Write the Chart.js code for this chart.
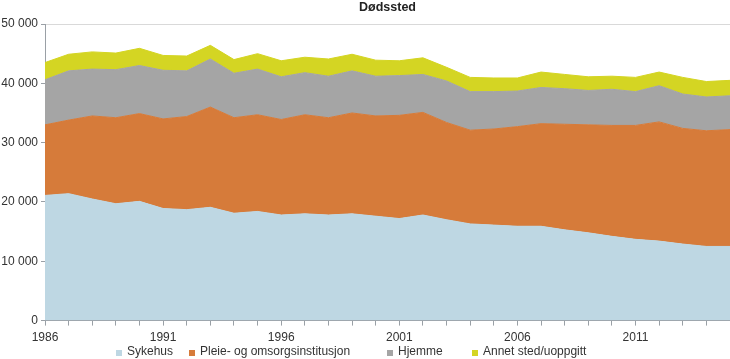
<!DOCTYPE html>
<html>
<head>
<meta charset="utf-8">
<script src="https://cdn.jsdelivr.net/npm/chart.js@4/dist/chart.umd.min.js"></script>
<style>
  html, body { margin: 0; padding: 0; background: #fff; }
  #wrap { width: 730px; height: 359px; }
</style>
</head>
<body>
<div id="wrap"><canvas id="grafica" width="730" height="359"></canvas></div>
<script>
const years = ['1986', '1987', '1988', '1989', '1990', '1991', '1992', '1993', '1994', '1995',
    '1996', '1997', '1998', '1999', '2000', '2001', '2002', '2003', '2004', '2005',
    '2006', '2007', '2008', '2009', '2010', '2011', '2012', '2013', '2014', '2015'];

const sykehus = [21100, 21400, 20500, 19700, 20100, 18900, 18700, 19100, 18100, 18400,
    17800, 18000, 17800, 18000, 17600, 17200, 17800, 17000, 16300, 16100,
    15900, 15900, 15300, 14800, 14200, 13700, 13400, 12900, 12500, 12500];

const pleie = [11900, 12400, 14000, 14500, 14800, 15100, 15700, 16900, 16100, 16300,
    16100, 16700, 16400, 17000, 16900, 17400, 17300, 16400, 15800, 16200,
    16800, 17300, 17800, 18200, 18700, 19200, 20100, 19500, 19500, 19700];

const hjemme = [7600, 8300, 7900, 8100, 8100, 8200, 7700, 8100, 7500, 7700,
    7200, 7100, 7000, 7100, 6700, 6700, 6400, 7000, 6500, 6300,
    6000, 6100, 6000, 5800, 6100, 5700, 6100, 5800, 5700, 5700];

const annet = [2900, 2800, 2900, 2800, 2900, 2500, 2500, 2300, 2300, 2600,
    2700, 2600, 2900, 2800, 2700, 2500, 2800, 2300, 2400, 2300,
    2200, 2600, 2400, 2300, 2200, 2400, 2300, 2800, 2600, 2600];

const yTicks = [0, 10000, 20000, 30000, 40000, 50000];

const FONT = '"Liberation Sans", Arial, sans-serif';
const TEXT = '#333333';

// tittel og forklaring tegnes selv for å treffe plasseringen
const egenTekst = {
    id: 'egenTekst',
    afterDraw(chart) {
        const c = chart.ctx;
        const area = chart.chartArea;
        c.save();
        c.fillStyle = '#222';
        c.font = 'bold 12.5px ' + FONT;
        c.textAlign = 'center';
        c.textBaseline = 'middle';
        c.fillText('Dødssted', (area.left + area.right) / 2, 8);

        const starts = [116, 189, 387, 472];
        c.font = '12px ' + FONT;
        c.textAlign = 'left';
        chart.data.datasets.forEach((ds, i) => {
            c.fillStyle = ds.backgroundColor;
            c.fillRect(starts[i], 350, 6, 6);
            c.fillStyle = TEXT;
            c.fillText(ds.label, starts[i] + 11, 352);
        });
        c.restore();
    }
};

const ctx = document.getElementById('grafica');

function serie(label, data, color, fill) {
    return {
        label: label,
        data: data,
        backgroundColor: color,
        borderColor: color,
        borderWidth: 1,
        pointRadius: 0,
        tension: 0,
        fill: fill
    };
}

new Chart(ctx, {
    type: 'line',
    data: {
        labels: years,
        datasets: [
            serie('Sykehus', sykehus, '#bed7e3', 'origin'),
            serie('Pleie- og omsorgsinstitusjon', pleie, '#d67b3a', '-1'),
            serie('Hjemme', hjemme, '#a5a5a5', '-1'),
            serie('Annet sted/uoppgitt', annet, '#d4d523', '-1')
        ]
    },
    plugins: [egenTekst],
    options: {
        responsive: false,
        animation: false,
        layout: {
            padding: { top: 24, bottom: 9, left: 0, right: 0 }
        },
        plugins: {
            title: { display: false },
            legend: { display: false },
            tooltip: { enabled: false }
        },
        scales: {
            x: {
                type: 'category',
                offset: false,
                afterFit: (s) => { s.paddingLeft = 0; s.paddingRight = 0; },
                grid: {
                    drawOnChartArea: false,
                    tickLength: 5,
                    tickColor: '#9aa0a6'
                },
                border: { color: '#9aa0a6' },
                ticks: {
                    autoSkip: false,
                    maxRotation: 0,
                    padding: 5,
                    color: TEXT,
                    font: { family: FONT, size: 12 },
                    callback: (v, i) => (i % 5 === 0 ? years[i] : '')
                }
            },
            y: {
                stacked: true,
                min: 0,
                max: 50000,
                afterBuildTicks: (s) => { s.ticks = yTicks.map(v => ({ value: v })); },
                afterFit: (s) => { s.width = 45; },
                grid: {
                    color: (c) => (c.tick && c.tick.value === 50000 ? '#d9d9d9' : 'rgba(0,0,0,0)'),
                    tickColor: '#9aa0a6',
                    tickLength: 4
                },
                border: { color: '#9aa0a6' },
                ticks: {
                    padding: 3,
                    color: TEXT,
                    font: { family: FONT, size: 12 },
                    callback: (v) => v.toLocaleString('nb-NO').replace(/\s/g, ' ')
                }
            }
        }
    }
});
</script>
</body>
</html>
